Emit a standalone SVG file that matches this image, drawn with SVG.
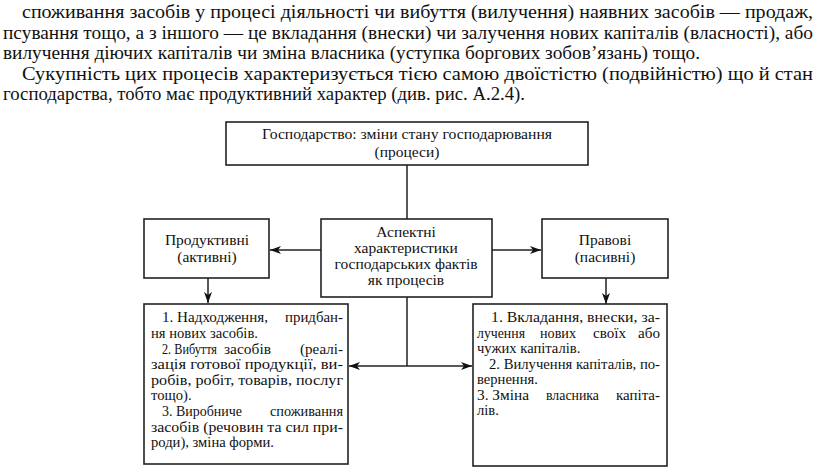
<svg xmlns="http://www.w3.org/2000/svg" width="816" height="472" viewBox="0 0 816 472" font-family="'Liberation Serif', 'DejaVu Serif', serif">
<style>
text{fill:#111}
.p{font-size:18.5px}
.d{font-size:15.5px}
.l{font-size:14.6px}
.c{text-anchor:middle}
.box{fill:#fff;stroke:#222;stroke-width:1.6}
.ln{fill:none;stroke:#222;stroke-width:1.5}
</style>
<defs>
<marker id="ah" viewBox="0 0 11 8" refX="11" refY="4" markerWidth="11" markerHeight="8" markerUnits="userSpaceOnUse" orient="auto-start-reverse">
<path d="M0,0 L11,4 L0,8 L3,4 z" fill="#111"/>
</marker>
</defs>
<rect width="816" height="472" fill="#fff"/>
<g id="paragraph" font-family="Liberation Serif">
<text class="p" x="22" y="18" textLength="791" lengthAdjust="spacingAndGlyphs">споживання засобів у процесі діяльності чи вибуття (вилучення) наявних засобів — продаж,</text>
<text class="p" x="3" y="39" textLength="810" lengthAdjust="spacingAndGlyphs">псування тощо, а з іншого — це вкладання (внески) чи залучення нових капіталів (власності), або</text>
<text class="p" x="3" y="59" textLength="697" lengthAdjust="spacingAndGlyphs">вилучення діючих капіталів чи зміна власника (уступка боргових зобов’язань) тощо.</text>
<text class="p" x="22" y="80" textLength="791" lengthAdjust="spacingAndGlyphs">Сукупність цих процесів характеризується тією самою двоїстістю (подвійністю) що й стан</text>
<text class="p" x="3" y="100" textLength="522" lengthAdjust="spacingAndGlyphs">господарства, тобто має продуктивний характер (див. рис. А.2.4).</text>
</g>
<g id="connectors">
<line class="ln" x1="407" y1="165" x2="407" y2="219"/>
<line class="ln" x1="321" y1="250" x2="270" y2="250" marker-end="url(#ah)"/>
<line class="ln" x1="492" y1="250" x2="541" y2="250" marker-end="url(#ah)"/>
<line class="ln" x1="208" y1="278" x2="208" y2="303" marker-end="url(#ah)"/>
<line class="ln" x1="606" y1="278" x2="606" y2="304" marker-end="url(#ah)"/>
<line class="ln" x1="407" y1="297" x2="407" y2="366"/>
<line class="ln" x1="349" y1="366" x2="472" y2="366" marker-start="url(#ah)" marker-end="url(#ah)"/>
</g>
<g id="top" font-family="Liberation Serif">
<rect class="box" x="226" y="122" width="362" height="43"/>
<text class="d c" x="407" y="139" textLength="290" lengthAdjust="spacingAndGlyphs">Господарство: зміни стану господарювання</text>
<text class="d c" x="407" y="157">(процеси)</text>
</g>
<g id="aspect" font-family="Liberation Serif">
<rect class="box" x="321" y="219" width="171" height="78"/>
<text class="d c" x="406" y="237">Аспектні</text>
<text class="d c" x="406" y="253">характеристики</text>
<text class="d c" x="406" y="269">господарських фактів</text>
<text class="d c" x="406" y="285">як процесів</text>
</g>
<g id="productive" font-family="Liberation Serif">
<rect class="box" x="144" y="219" width="125" height="59"/>
<text class="d c" x="207" y="245">Продуктивні</text>
<text class="d c" x="207" y="262">(активні)</text>
</g>
<g id="legal" font-family="Liberation Serif">
<rect class="box" x="542" y="219" width="126" height="59"/>
<text class="d c" x="605" y="245">Правові</text>
<text class="d c" x="605" y="262">(пасивні)</text>
</g>
<g id="productive-list" font-family="Liberation Serif">
<rect class="box" x="144" y="304" width="204" height="160"/>
<text class="l" x="162" y="322" textLength="106" lengthAdjust="spacingAndGlyphs">1. Надходження,</text>
<text class="l" x="285" y="322" textLength="58" lengthAdjust="spacingAndGlyphs">придбан-</text>
<text class="l" x="151" y="338">ня нових засобів.</text>
<text class="l" x="162" y="354" textLength="55" lengthAdjust="spacingAndGlyphs">2. Вибуття</text>
<text class="l" x="224" y="354" textLength="47" lengthAdjust="spacingAndGlyphs">засобів</text>
<text class="l" x="300" y="354" textLength="43" lengthAdjust="spacingAndGlyphs">(реалі-</text>
<text class="l" x="151" y="369" textLength="192" lengthAdjust="spacingAndGlyphs">зація готової продукції, ви-</text>
<text class="l" x="151" y="385" textLength="192" lengthAdjust="spacingAndGlyphs">робів, робіт, товарів, послуг</text>
<text class="l" x="151" y="400">тощо).</text>
<text class="l" x="162" y="416" textLength="80" lengthAdjust="spacingAndGlyphs">3. Виробниче</text>
<text class="l" x="270" y="416" textLength="73" lengthAdjust="spacingAndGlyphs">споживання</text>
<text class="l" x="151" y="432" textLength="192" lengthAdjust="spacingAndGlyphs">засобів (речовин та сил при-</text>
<text class="l" x="151" y="447">роди), зміна форми.</text>
</g>
<g id="legal-list" font-family="Liberation Serif">
<rect class="box" x="473" y="304" width="194" height="162"/>
<text class="l" x="491" y="322" textLength="169" lengthAdjust="spacingAndGlyphs">1. Вкладання, внески, за-</text>
<text class="l" x="477" y="338" textLength="48" lengthAdjust="spacingAndGlyphs">лучення</text>
<text class="l" x="540" y="338" textLength="36" lengthAdjust="spacingAndGlyphs">нових</text>
<text class="l" x="593" y="338" textLength="33" lengthAdjust="spacingAndGlyphs">своїх</text>
<text class="l" x="638" y="338" textLength="22" lengthAdjust="spacingAndGlyphs">або</text>
<text class="l" x="477" y="353">чужих капіталів.</text>
<text class="l" x="489" y="369" textLength="171" lengthAdjust="spacingAndGlyphs">2. Вилучення капіталів, по-</text>
<text class="l" x="477" y="384">вернення.</text>
<text class="l" x="477" y="400" textLength="52" lengthAdjust="spacingAndGlyphs">3. Зміна</text>
<text class="l" x="546" y="400" textLength="53" lengthAdjust="spacingAndGlyphs">власника</text>
<text class="l" x="616" y="400" textLength="44" lengthAdjust="spacingAndGlyphs">капіта-</text>
<text class="l" x="477" y="415">лів.</text>
</g>
</svg>
